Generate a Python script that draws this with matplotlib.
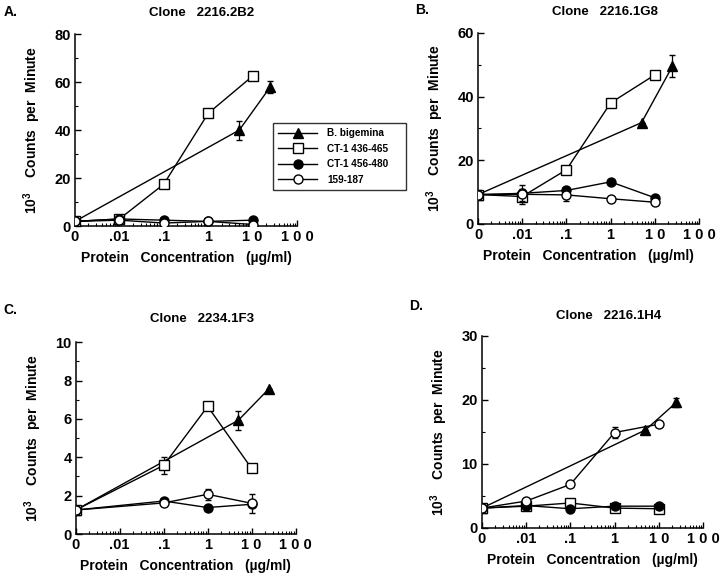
import matplotlib
matplotlib.use("Agg")
import matplotlib.pyplot as plt
from matplotlib.lines import Line2D
from matplotlib.ticker import LogLocator, NullFormatter, MultipleLocator

plt.rcParams['font.family'] = ['Liberation Sans', 'DejaVu Sans']
plt.rcParams['font.weight'] = 'bold'
plt.rcParams['mathtext.fontset'] = 'custom'
plt.rcParams['mathtext.rm'] = 'Liberation Sans:bold'
plt.rcParams['mathtext.bf'] = 'Liberation Sans:bold'

# ---------------- data ----------------
# x = 0 is plotted at 0.001 (the "0" position of the log axis)
series_names = ["B. bigemina", "CT-1 436-465", "CT-1 456-480", "159-187"]
x_tick_vals = [0.001, 0.01, 0.1, 1, 10, 100]
x_tick_labels = ["0", ".01", ".1", "1", "1 0", "1 0 0"]

# Panel A  Clone 2216.2B2
a_bb_x = [0.001, 5, 25];            a_bb_y = [2, 40, 58];           a_bb_e = [0, 4, 2.5]
a_ct1_x = [0.001, 0.01, 0.1, 1, 10]; a_ct1_y = [2, 3, 17.5, 47, 62.5]; a_ct1_e = [0, 0, 0, 0, 1.5]
a_ct2_x = [0.001, 0.01, 0.1, 1, 10]; a_ct2_y = [2, 3, 2.5, 2, 2.5];    a_ct2_e = [0, 0, 0, 0, 0]
a_pep_x = [0.001, 0.01, 0.1, 1, 10]; a_pep_y = [2, 2.5, 1.3, 2, 0.7];  a_pep_e = [0, 0, 0, 0, 0]

# Panel B  Clone 2216.1G8
b_bb_x = [0.001, 5, 25];            b_bb_y = [9.2, 31.8, 49.5];     b_bb_e = [0, 0, 3.5]
b_ct1_x = [0.001, 0.01, 0.1, 1, 10]; b_ct1_y = [9.2, 8.6, 17, 38, 46.8]; b_ct1_e = [1.5, 2.5, 0, 0, 0]
b_ct2_x = [0.001, 0.01, 0.1, 1, 10]; b_ct2_y = [9.2, 9.6, 10.5, 13.2, 8.2]; b_ct2_e = [0, 2.5, 1.2, 0, 0]
b_pep_x = [0.001, 0.01, 0.1, 1, 10]; b_pep_y = [9.2, 9.3, 9.1, 7.9, 6.8]; b_pep_e = [0, 0, 2, 0, 0]

# Panel C  Clone 2234.1F3
c_bb_x = [0.001, 5, 25];        c_bb_y = [1.25, 5.93, 7.58];    c_bb_e = [0, 0.5, 0]
c_ct1_x = [0.001, 0.1, 1, 10];  c_ct1_y = [1.25, 3.58, 6.65, 3.42]; c_ct1_e = [0, 0.45, 0, 0.15]
c_ct2_x = [0.001, 0.1, 1, 10];  c_ct2_y = [1.25, 1.72, 1.38, 1.55]; c_ct2_e = [0, 0.1, 0, 0]
c_pep_x = [0.001, 0.1, 1, 10];  c_pep_y = [1.25, 1.62, 2.07, 1.6];  c_pep_e = [0, 0, 0.3, 0.5]

# Panel D  Clone 2216.1H4
d_bb_x = [0.001, 5, 25];            d_bb_y = [3.1, 15.3, 19.6];      d_bb_e = [0, 0, 0.7]
d_ct1_x = [0.001, 0.01, 0.1, 1, 10]; d_ct1_y = [3.1, 3.4, 3.9, 3.1, 3.0]; d_ct1_e = [0, 0, 0, 0, 0]
d_ct2_x = [0.001, 0.01, 0.1, 1, 10]; d_ct2_y = [3.1, 3.5, 3.0, 3.4, 3.4]; d_ct2_e = [0, 0, 0, 0, 0]
d_pep_x = [0.001, 0.01, 0.1, 1, 10]; d_pep_y = [3.1, 4.2, 6.8, 14.9, 16.2]; d_pep_e = [0, 0, 0, 0.8, 0]

panels = [
    dict(label="A.", title="Clone   2216.2B2", ymax=80, major=20, minor=10,
         data=[(a_bb_x, a_bb_y, a_bb_e), (a_ct1_x, a_ct1_y, a_ct1_e),
               (a_ct2_x, a_ct2_y, a_ct2_e), (a_pep_x, a_pep_y, a_pep_e)],
         pos=[0.104, 0.608, 0.308, 0.333], lab=(0.005, 0.979), tit=(0.279, 0.978)),
    dict(label="B.", title="Clone   2216.1G8", ymax=60, major=20, minor=10,
         data=[(b_bb_x, b_bb_y, b_bb_e), (b_ct1_x, b_ct1_y, b_ct1_e),
               (b_ct2_x, b_ct2_y, b_ct2_e), (b_pep_x, b_pep_y, b_pep_e)],
         pos=[0.663, 0.612, 0.3065, 0.331], lab=(0.576, 0.982), tit=(0.839, 0.980)),
    dict(label="C.", title="Clone   2234.1F3", ymax=10, major=2, minor=1,
         data=[(c_bb_x, c_bb_y, c_bb_e), (c_ct1_x, c_ct1_y, c_ct1_e),
               (c_ct2_x, c_ct2_y, c_ct2_e), (c_pep_x, c_pep_y, c_pep_e)],
         pos=[0.105, 0.0745, 0.305, 0.3325], lab=(0.004, 0.463), tit=(0.280, 0.447)),
    dict(label="D.", title="Clone   2216.1H4", ymax=30, major=10, minor=5,
         data=[(d_bb_x, d_bb_y, d_bb_e), (d_ct1_x, d_ct1_y, d_ct1_e),
               (d_ct2_x, d_ct2_y, d_ct2_e), (d_pep_x, d_pep_y, d_pep_e)],
         pos=[0.6685, 0.085, 0.3065, 0.333], lab=(0.567, 0.470), tit=(0.844, 0.452)),
]

styles = [
    dict(marker='^', mfc='black', mec='black', ms=6.5),
    dict(marker='s', mfc='white', mec='black', ms=6.5),
    dict(marker='o', mfc='black', mec='black', ms=6.5),
    dict(marker='o', mfc='white', mec='black', ms=6.5),
]
zorders = [3, 4, 5, 6]

fig = plt.figure(figsize=(7.21, 5.77), dpi=100)

for p in panels:
    ax = fig.add_axes(p['pos'])
    for (x, y, e), st, z in zip(p['data'], styles, zorders):
        ax.errorbar(x, y, yerr=e, color='black', lw=1.0, elinewidth=0.9,
                    capsize=2, capthick=0.9, mew=1.0, zorder=z, **st)
    ax.set_xscale('log')
    ax.set_xlim(0.001, 100)
    ax.set_ylim(0, p['ymax'])
    ax.set_xticks(x_tick_vals)
    ax.set_xticklabels(x_tick_labels)
    ax.xaxis.set_minor_locator(LogLocator(base=10, subs=range(2, 10), numticks=20))
    ax.xaxis.set_minor_formatter(NullFormatter())
    ax.yaxis.set_major_locator(MultipleLocator(p['major']))
    ax.yaxis.set_minor_locator(MultipleLocator(p['minor']))
    for s in ['top', 'right']:
        ax.spines[s].set_visible(False)
    for s in ['left', 'bottom']:
        ax.spines[s].set_linewidth(1.1)
    ax.tick_params(which='major', direction='in', length=4, width=1, labelsize=10.5, pad=3)
    ax.tick_params(which='minor', direction='in', length=2, width=0.8)
    for lbl in ax.get_xticklabels() + ax.get_yticklabels():
        lbl.set_fontweight('bold')
    ax.set_xlabel("Protein   Concentration   (\u00b5g/ml)", fontsize=10, fontweight='bold', labelpad=5)
    ax.set_ylabel("$10^{3}$    Counts  per  Minute", fontsize=10, fontweight='bold', labelpad=8)
    fig.text(p['lab'][0], p['lab'][1], p['label'], fontsize=10, fontweight='bold', ha='left', va='center')
    fig.text(p['tit'][0], p['tit'][1], p['title'], fontsize=9.5, fontweight='bold', ha='center', va='center')

handles = [Line2D([0], [0], color='black', lw=1.0, mew=1.0, **st) for st in styles]
leg = fig.legend(handles, series_names, loc='upper left',
                 bbox_to_anchor=(0.379, 0.671, 0.184, 0.115), mode='expand',
                 frameon=True, fancybox=False, fontsize=7.2, handlelength=3.9,
                 borderpad=0.5, labelspacing=0.55, handletextpad=1.0, borderaxespad=0)
leg.get_frame().set_edgecolor('black')
leg.get_frame().set_linewidth(1.0)
for t in leg.get_texts():
    t.set_fontweight('bold')

fig.savefig("out.png", dpi=100)
